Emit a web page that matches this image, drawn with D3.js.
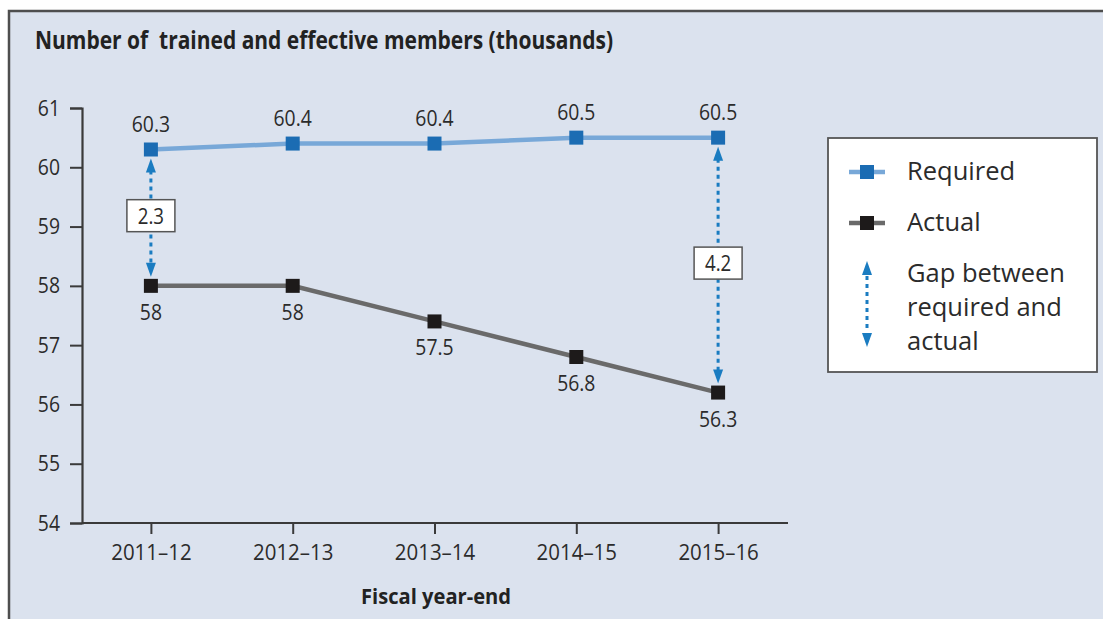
<!DOCTYPE html>
<html>
<head>
<meta charset="utf-8">
<script src="https://cdn.jsdelivr.net/npm/d3@7"></script>
<style>
  html, body { margin: 0; padding: 0; background: #fff; }
  svg { display: block; }
  text { font-family: "Open Sans", "Noto Sans", sans-serif; }
</style>
</head>
<body>
<svg id="chart" width="1103" height="619"></svg>
<script>
// ---- data ----
const categories = ["2011\u201312", "2012\u201313", "2013\u201314", "2014\u201315", "2015\u201316"];
const requiredValues = [60.3, 60.4, 60.4, 60.5, 60.5];
const requiredLabels = ["60.3", "60.4", "60.4", "60.5", "60.5"];
const actualValues = [58, 58, 57.4, 56.8, 56.2];
const actualLabels = ["58", "58", "57.5", "56.8", "56.3"];
const gapIndices = [0, 4];
const gapLabels = ["2.3", "4.2"];
const yTicks = [54, 55, 56, 57, 58, 59, 60, 61];
const titleText = "Number of  trained and effective members (thousands)";
const xAxisTitle = "Fiscal year-end";
const legendLabels = ["Required", "Actual", ["Gap between", "required and", "actual"]];

// ---- setup ----
const svg = d3.select("#chart");
const W = 1103, H = 619;
const bg = "#dbe2ee";
const reqLine = "#78a8d8", reqMark = "#1b6cb3";
const actLine = "#6a6a6a", actMark = "#1d1a1a";
const gapCol = "#1a7cc1";
const textCol = "#2b2b2b";

// condense text horizontally by a factor
function condense(sel, f) {
  sel.each(function () {
    const len = this.getComputedTextLength();
    d3.select(this).attr("textLength", len * f).attr("lengthAdjust", "spacingAndGlyphs");
  });
}

// frame
svg.append("rect").attr("x", 9).attr("y", 11).attr("width", W).attr("height", H)
  .attr("fill", bg).attr("stroke", "#4e4e4e").attr("stroke-width", 2.5);

// title
svg.append("text")
  .attr("x", 35).attr("y", 49)
  .attr("font-size", 25).attr("font-weight", "bold").attr("fill", "#222")
  .attr("textLength", 578).attr("lengthAdjust", "spacingAndGlyphs")
  .style("white-space", "pre")
  .text(titleText);

// scales
const x = d3.scalePoint().domain(categories).range([80, 789]).padding(0.5);
const y = d3.scaleLinear().domain([54, 61]).range([523, 108]);

// y axis
const yAxis = svg.append("g").attr("transform", "translate(82,0)")
  .call(d3.axisLeft(y).tickValues(yTicks).tickSize(12).tickPadding(10).tickFormat(d3.format("d")));
yAxis.attr("font-family", null).attr("font-size", null);
yAxis.select(".domain").attr("stroke", "#3a3a3a").attr("stroke-width", 2.2);
yAxis.selectAll(".tick line").attr("stroke", "#3a3a3a").attr("stroke-width", 2);
yAxis.selectAll(".tick text").attr("font-size", 22).attr("fill", textCol);
condense(yAxis.selectAll(".tick text"), 0.88);

// x axis
const xAxis = svg.append("g").attr("transform", "translate(0,523)")
  .call(d3.axisBottom(x).tickSize(11).tickPadding(10).tickSizeOuter(0));
xAxis.attr("font-family", null).attr("font-size", null);
xAxis.select(".domain").attr("d", "M82,0H788").attr("stroke", "#3a3a3a").attr("stroke-width", 2.2);
xAxis.selectAll(".tick line").attr("stroke", "#3a3a3a").attr("stroke-width", 2);
xAxis.selectAll(".tick text").attr("font-size", 22).attr("fill", textCol);
condense(xAxis.selectAll(".tick text"), 0.93);

svg.append("text")
  .attr("x", 436).attr("y", 604).attr("text-anchor", "middle")
  .attr("font-size", 22).attr("font-weight", "bold").attr("fill", "#222")
  .attr("textLength", 150).attr("lengthAdjust", "spacingAndGlyphs")
  .text(xAxisTitle);

// lines
const reqData = categories.map((c, i) => ({ c, v: requiredValues[i], l: requiredLabels[i] }));
const actData = categories.map((c, i) => ({ c, v: actualValues[i], l: actualLabels[i] }));
const line = d3.line().x(d => x(d.c)).y(d => y(d.v));

svg.append("path").datum(reqData).attr("d", line)
  .attr("fill", "none").attr("stroke", reqLine).attr("stroke-width", 4.5);
svg.append("path").datum(actData).attr("d", line)
  .attr("fill", "none").attr("stroke", actLine).attr("stroke-width", 4.5);

// gap arrows
gapIndices.forEach((idx, k) => {
  const cx = x(categories[idx]);
  const yTop = y(requiredValues[idx]) + 9;
  const yBot = y(actualValues[idx]) - 9;
  const g = svg.append("g");
  g.append("line").attr("x1", cx).attr("x2", cx).attr("y1", yTop + 12).attr("y2", yBot - 12)
    .attr("stroke", gapCol).attr("stroke-width", 3).attr("stroke-dasharray", "4,4");
  g.append("path").attr("d", `M${cx},${yTop} L${cx - 5},${yTop + 14} L${cx + 5},${yTop + 14} Z`).attr("fill", gapCol);
  g.append("path").attr("d", `M${cx},${yBot} L${cx - 5},${yBot - 14} L${cx + 5},${yBot - 14} Z`).attr("fill", gapCol);
  const my = (y(requiredValues[idx]) + y(actualValues[idx])) / 2 - 2;
  g.append("rect").attr("x", cx - 24).attr("y", my - 16).attr("width", 48).attr("height", 32)
    .attr("fill", "#fff").attr("stroke", "#555").attr("stroke-width", 1.5);
  const t = g.append("text").attr("x", cx).attr("y", my + 8)
    .attr("text-anchor", "middle").attr("font-size", 22).attr("fill", textCol).text(gapLabels[k]);
  condense(t, 0.85);
});

// markers
svg.selectAll(".reqm").data(reqData).enter().append("rect")
  .attr("x", d => x(d.c) - 7).attr("y", d => y(d.v) - 7).attr("width", 14).attr("height", 14)
  .attr("fill", reqMark);
svg.selectAll(".actm").data(actData).enter().append("rect")
  .attr("x", d => x(d.c) - 7).attr("y", d => y(d.v) - 7).attr("width", 14).attr("height", 14)
  .attr("fill", actMark);

// value labels
const rl = svg.selectAll(".reql").data(reqData).enter().append("text")
  .attr("x", d => x(d.c)).attr("y", d => y(d.v) - 18).attr("text-anchor", "middle")
  .attr("font-size", 22).attr("fill", textCol).text(d => d.l);
condense(rl, 0.88);
const al = svg.selectAll(".actl").data(actData).enter().append("text")
  .attr("x", d => x(d.c)).attr("y", d => y(d.v) + 34).attr("text-anchor", "middle")
  .attr("font-size", 22).attr("fill", textCol).text(d => d.l);
condense(al, 0.88);

// legend
const lg = svg.append("g");
lg.append("rect").attr("x", 828).attr("y", 138).attr("width", 269).attr("height", 234)
  .attr("fill", "#fff").attr("stroke", "#555").attr("stroke-width", 1.8);
const lx = 867;
lg.append("line").attr("x1", lx - 18).attr("x2", lx + 18).attr("y1", 172).attr("y2", 172)
  .attr("stroke", reqLine).attr("stroke-width", 4.5);
lg.append("rect").attr("x", lx - 7).attr("y", 165).attr("width", 14).attr("height", 14).attr("fill", reqMark);
lg.append("text").attr("x", 907).attr("y", 180).attr("font-size", 25.5).attr("fill", textCol).text(legendLabels[0]);
lg.append("line").attr("x1", lx - 18).attr("x2", lx + 18).attr("y1", 223).attr("y2", 223)
  .attr("stroke", actLine).attr("stroke-width", 4.5);
lg.append("rect").attr("x", lx - 7).attr("y", 216).attr("width", 14).attr("height", 14).attr("fill", actMark);
lg.append("text").attr("x", 907).attr("y", 231).attr("font-size", 25.5).attr("fill", textCol).text(legendLabels[1]);
lg.append("line").attr("x1", lx).attr("x2", lx).attr("y1", 276).attr("y2", 332)
  .attr("stroke", gapCol).attr("stroke-width", 3).attr("stroke-dasharray", "4,4");
lg.append("path").attr("d", `M${lx},261 L${lx - 5},275 L${lx + 5},275 Z`).attr("fill", gapCol);
lg.append("path").attr("d", `M${lx},347 L${lx - 5},333 L${lx + 5},333 Z`).attr("fill", gapCol);
legendLabels[2].forEach((t, i) => {
  lg.append("text").attr("x", 907).attr("y", 282 + i * 34)
    .attr("font-size", 25.5).attr("fill", textCol).text(t);
});
</script>
</body>
</html>
